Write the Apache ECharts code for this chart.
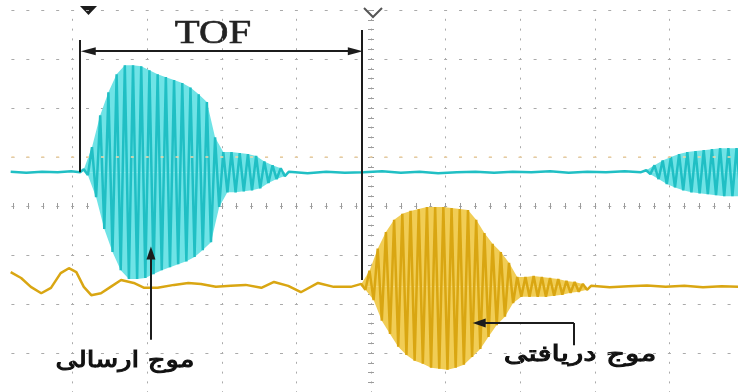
<!DOCTYPE html>
<html>
<head>
<meta charset="utf-8">
<script src="https://cdn.jsdelivr.net/npm/echarts@6/dist/echarts.min.js"></script>
<style>
  html, body { margin: 0; padding: 0; background: #fff; }
  #chart { width: 738px; height: 392px; }
</style>
</head>
<body>
<div id="chart"></div>
<script>
// scope screen: 10 x 8 divisions, time and amplitude both in divisions
const timeRange = [-5, 5];
const voltRange = [-4, 4];
const cycle = 0.11; // on-screen period of the burst oscillation

const cyanBase = 0.69;
const yellowBase = -1.65;

// transmitted wave (cyan): peaks per cycle
const txStart = -3.85;
const txUpper = [0.75, 1.20, 1.85, 2.32, 2.69, 2.87, 2.87, 2.85, 2.77, 2.69, 2.63, 2.57, 2.51, 2.42, 2.28, 2.12, 1.40, 1.10, 1.10, 1.08, 1.06, 1.02, 0.91, 0.83, 0.77];
const txLower = [0.63, 0.18, -0.47, -0.94, -1.31, -1.49, -1.49, -1.47, -1.39, -1.31, -1.25, -1.19, -1.13, -1.04, -0.90, -0.74, -0.02, 0.28, 0.28, 0.30, 0.32, 0.36, 0.47, 0.55, 0.61];

// next transmitted burst at the right edge
const tx2Start = 3.69;
const tx2Upper = [0.73, 0.83, 0.93, 1.00, 1.06, 1.10, 1.12, 1.14, 1.16, 1.18, 1.18, 1.18, 1.18];
const tx2Lower = [0.65, 0.55, 0.45, 0.38, 0.32, 0.28, 0.26, 0.24, 0.22, 0.20, 0.20, 0.20, 0.20];

// received wave (yellow)
const rxStart = -0.13;
const rxUpper = [-1.59, -1.32, -0.87, -0.53, -0.28, -0.16, -0.10, -0.06, -0.02, -0.02, -0.02, -0.04, -0.06, -0.08, -0.28, -0.55, -0.77, -0.94, -1.16, -1.45, -1.45, -1.43, -1.45, -1.47, -1.49, -1.53, -1.55, -1.59];
const rxLower = [-1.71, -1.92, -2.34, -2.61, -2.87, -3.04, -3.16, -3.22, -3.30, -3.32, -3.34, -3.30, -3.24, -3.08, -2.92, -2.67, -2.43, -2.26, -1.98, -1.85, -1.85, -1.85, -1.85, -1.83, -1.81, -1.77, -1.75, -1.71];

// quiet parts of the traces [time, value]
const cyanLead = [[-4.83, 0.70], [-4.62, 0.68], [-4.41, 0.70], [-4.2, 0.69], [-4.02, 0.71], [-3.9, 0.69]];
const cyanGap = [[-1.1, 0.70], [-0.85, 0.67], [-0.6, 0.70], [-0.35, 0.68], [-0.1, 0.69], [0.15, 0.71], [0.4, 0.68], [0.65, 0.70], [0.9, 0.67], [1.15, 0.69], [1.4, 0.70], [1.65, 0.68], [1.9, 0.70], [2.15, 0.69], [2.4, 0.71], [2.65, 0.68], [2.9, 0.70], [3.15, 0.69], [3.4, 0.71], [3.62, 0.69]];
const yellowLead = [[-4.83, -1.35], [-4.69, -1.47], [-4.56, -1.65], [-4.42, -1.78], [-4.29, -1.67], [-4.16, -1.37], [-4.05, -1.27], [-3.95, -1.35], [-3.85, -1.65], [-3.75, -1.82], [-3.62, -1.78], [-3.49, -1.65], [-3.35, -1.51], [-3.18, -1.57], [-3.04, -1.67], [-2.86, -1.67], [-2.64, -1.61], [-2.45, -1.57], [-2.28, -1.59], [-2.08, -1.65], [-1.88, -1.63], [-1.68, -1.61], [-1.47, -1.67], [-1.30, -1.55], [-1.11, -1.63], [-0.94, -1.76], [-0.71, -1.57], [-0.50, -1.65], [-0.27, -1.65]];
const yellowTail = [[2.95, -1.63], [3.2, -1.66], [3.45, -1.64], [3.7, -1.62], [3.95, -1.65], [4.2, -1.63], [4.45, -1.66], [4.7, -1.64], [4.95, -1.65]];

// annotation anchors (time, value)
const tofLeft = -3.91, tofRight = -0.12, tofArrowY = 3.16;
const labels = ['TOF', 'موج ارسالی', 'موج دریافتی'];

const CYAN = '#20bfc4', CYAN_LIGHT = '#6fe3e6';
const GOLD = '#d9a612', GOLD_LIGHT = '#f1cd55';

function burstTrace(start, upper, lower) {
  const pts = [];
  upper.forEach((u, i) => {
    pts.push([start + i * cycle, u]);
    pts.push([start + (i + 0.5) * cycle, lower[i]]);
  });
  return pts;
}
function envelope(start, values, shift) {
  return values.map((v, i) => [start + (i + shift) * cycle, v]);
}
function band(data, base, color) {
  return {
    type: 'line', data, symbol: 'none', silent: true, z: 1,
    lineStyle: { width: 0, opacity: 0 },
    areaStyle: { color, opacity: 1, origin: base }
  };
}

const chart = echarts.init(document.getElementById('chart'));

const axisBase = {
  type: 'value', interval: 1,
  axisLine: { show: false, onZero: true },
  axisLabel: { show: false },
  axisTick: { show: true, length: 3, lineStyle: { color: '#9c9c9c' } },
  minorTick: { show: true, splitNumber: 5, length: 3, lineStyle: { color: '#9c9c9c' } },
  splitLine: { show: false }
};

const blackLine = { color: '#1c1c1c', width: 2, type: 'solid' };
const arrowEnd = { symbol: 'triangle', symbolSize: [9, 13] };
const persianFont = '22px "DejaVu Sans"';

chart.setOption({
  animation: false,
  backgroundColor: '#fff',
  grid: { left: -2, right: -6, top: 10, bottom: -10, containLabel: false, outerBoundsMode: 'none' },
  xAxis: [
    Object.assign({}, axisBase, { position: 'bottom', min: timeRange[0], max: timeRange[1],
      splitLine: { show: true, lineStyle: { color: '#aaa', width: 1, type: [2, 7.8], dashOffset: 1 } } }),
    Object.assign({}, axisBase, { position: 'top', min: timeRange[0], max: timeRange[1] })
  ],
  yAxis: [
    Object.assign({}, axisBase, { position: 'left', min: voltRange[0], max: voltRange[1],
      splitLine: { show: true, lineStyle: { color: '#aaa', width: 1, type: [3, 11.92], dashOffset: 1.5 } } }),
    Object.assign({}, axisBase, { position: 'right', min: voltRange[0], max: voltRange[1] })
  ],
  series: [
    band(envelope(txStart, txUpper, 0), cyanBase, CYAN_LIGHT),
    band(envelope(txStart, txLower, 0.5), cyanBase, CYAN_LIGHT),
    band(envelope(tx2Start, tx2Upper, 0), cyanBase, CYAN_LIGHT),
    band(envelope(tx2Start, tx2Lower, 0.5), cyanBase, CYAN_LIGHT),
    {
      name: 'transmitted', type: 'line', symbol: 'none', z: 2,
      lineStyle: { color: CYAN, width: 2.5 },
      data: [...cyanLead, ...burstTrace(txStart, txUpper, txLower), ...cyanGap, ...burstTrace(tx2Start, tx2Upper, tx2Lower)],
      markLine: {
        silent: true, symbol: 'none', label: { show: false },
        lineStyle: { color: '#f3d6a6', width: 1.5, type: [3, 11.92], dashOffset: 1.5 },
        data: [{ yAxis: 1 }]
      }
    },
    band(envelope(rxStart, rxUpper, 0), yellowBase, GOLD_LIGHT),
    band(envelope(rxStart, rxLower, 0.5), yellowBase, GOLD_LIGHT),
    {
      name: 'received', type: 'line', symbol: 'none', z: 3,
      lineStyle: { color: GOLD, width: 2.5 },
      data: [...yellowLead, ...burstTrace(rxStart, rxUpper, rxLower), ...yellowTail]
    },
    {
      name: 'annotations', type: 'line', symbol: 'none', z: 10,
      data: [[0, 0]], lineStyle: { opacity: 0 },
      markLine: {
        silent: true, symbol: 'none', label: { show: false }, lineStyle: blackLine,
        data: [
          [{ coord: [tofLeft, 3.39] }, { coord: [tofLeft, cyanBase] }],
          [{ coord: [tofRight, 3.59] }, { coord: [tofRight, -1.51] }],
          [Object.assign({ coord: [tofLeft + 0.12, tofArrowY] }, arrowEnd, { symbolSize: [8, 15] }),
           Object.assign({ coord: [tofRight - 0.09, tofArrowY] }, arrowEnd, { symbolSize: [8, 15] })],
          [{ coord: [-2.95, -2.73] }, Object.assign({ coord: [-2.95, -0.96] }, arrowEnd)],
          [{ coord: [2.72, -2.84] }, { coord: [2.72, -2.39] }],
          [{ coord: [2.72, -2.39] }, Object.assign({ coord: [1.45, -2.39] }, arrowEnd)]
        ]
      }
    }
  ],
  graphic: [
    { type: 'polygon', shape: { points: [[80, 6], [97, 6], [88.5, 15]] }, style: { fill: '#1c1c1c' } },
    { type: 'polyline', shape: { points: [[364, 8], [373, 17], [382, 8]] }, style: { stroke: '#555', lineWidth: 2, fill: null } },
    { type: 'text', x: 213, y: 34, scaleX: 1.2,
      style: { text: labels[0], font: '34px "Liberation Serif"', fill: '#222', stroke: '#222', lineWidth: 0.6, align: 'center', verticalAlign: 'middle' } },
    { type: 'text', x: 125, y: 361, scaleX: 1.25,
      style: { text: labels[1], font: persianFont, fill: '#111', stroke: '#111', lineWidth: 1, align: 'center', verticalAlign: 'middle' } },
    { type: 'text', x: 580, y: 355, scaleX: 1.35,
      style: { text: labels[2], font: persianFont, fill: '#111', stroke: '#111', lineWidth: 1, align: 'center', verticalAlign: 'middle' } }
  ]
});

window.addEventListener('resize', () => chart.resize());
</script>
</body>
</html>
